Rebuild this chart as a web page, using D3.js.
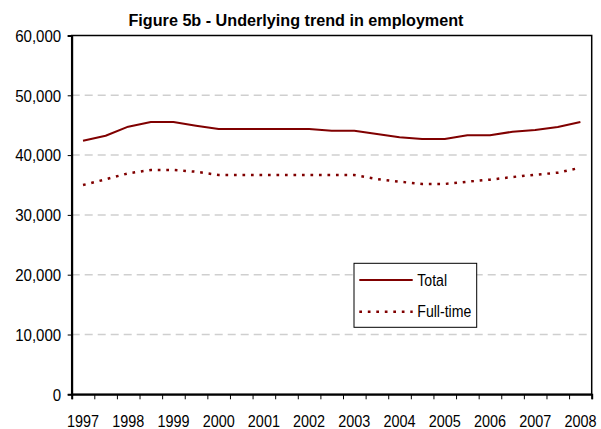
<!DOCTYPE html>
<html>
<head>
<meta charset="utf-8">
<script src="https://cdn.jsdelivr.net/npm/d3@7"></script>
<style>
  html, body { margin: 0; padding: 0; background: #fff; }
  svg { display: block; font-family: "Liberation Sans", Arial, sans-serif; }
</style>
</head>
<body>
<svg id="chart" width="601" height="429"></svg>
<script>
// Half-yearly periods (category axis)
const periods = ["1997","1997b","1998","1998b","1999","1999b","2000","2000b","2001","2001b",
  "2002","2002b","2003","2003b","2004","2004b","2005","2005b","2006","2006b","2007","2007b","2008"];
const yearLabels = ["1997","1998","1999","2000","2001","2002","2003","2004","2005","2006","2007","2008"];
const totalValues = [42410, 43240, 44750, 45530, 45530, 44920, 44360, 44360, 44360, 44360,
  44360, 44080, 44080, 43530, 42980, 42690, 42690, 43310, 43310, 43910, 44200, 44700, 45530];
const fullTimeValues = [35000, 35950, 36960, 37510, 37510, 37220, 36670, 36670, 36670, 36670,
  36670, 36670, 36670, 36000, 35550, 35170, 35170, 35550, 35890, 36340, 36720, 37060, 37890];
const yTicks = [0, 10000, 20000, 30000, 40000, 50000, 60000];
const seriesNames = ["Total", "Full-time"];
const titleText = "Figure 5b - Underlying trend in employment";

const svg = d3.select("#chart");
const L = 71.7, R = 591.7, T = 35.5, B = 394.3;
const lineColor = "#800000";
const FONT = "'Liberation Sans', Arial, sans-serif";

const x = d3.scaleBand().domain(periods).range([L, R]).padding(0);
const xEdge = d3.scaleLinear().domain([0, periods.length]).range([L, R]);
const y = d3.scaleLinear().domain([0, 60000]).range([B, T]);

// Condense text horizontally to mimic the narrow rendering
function condense(sel, ratio) {
  sel.each(function() {
    const t = d3.select(this);
    const w = this.getComputedTextLength();
    if (w > 0) t.attr("textLength", w * ratio).attr("lengthAdjust", "spacingAndGlyphs");
  });
}

// Title
svg.append("text")
  .attr("x", 296).attr("y", 26)
  .attr("text-anchor", "middle")
  .attr("font-weight", "bold")
  .attr("font-size", 16)
  .attr("textLength", 335)
  .attr("lengthAdjust", "spacingAndGlyphs")
  .attr("fill", "#000")
  .text(titleText);

// Gridlines
svg.append("g")
  .selectAll("line")
  .data(yTicks.filter(v => v > 0 && v < 60000))
  .join("line")
  .attr("x1", L).attr("x2", R)
  .attr("y1", d => y(d)).attr("y2", d => y(d))
  .attr("stroke", "#cfcfcf")
  .attr("stroke-width", 1.5)
  .attr("stroke-dasharray", "8,5");

// Plot border
svg.append("rect")
  .attr("x", L).attr("y", T)
  .attr("width", R - L).attr("height", B - T)
  .attr("fill", "none")
  .attr("stroke", "#000")
  .attr("stroke-width", 1.5);

// Y axis
const yAxis = svg.append("g")
  .attr("transform", `translate(${L},0)`)
  .call(d3.axisLeft(y).tickValues(yTicks).tickSize(4).tickPadding(6.5)
    .tickFormat(d3.format(",")));
yAxis.select(".domain").attr("stroke", "#000").attr("stroke-width", 2);
yAxis.selectAll(".tick line").attr("stroke", "#000").attr("stroke-width", 1);
yAxis.selectAll("text").attr("font-size", 16).attr("fill", "#000")
  .attr("font-family", FONT).attr("dy", "0.36em");
condense(yAxis.selectAll("text"), 0.94);

// X axis tick marks at category edges
const xAxis = svg.append("g")
  .attr("transform", `translate(0,${B})`)
  .call(d3.axisBottom(xEdge).tickValues(d3.range(periods.length + 1)).tickSize(5).tickFormat(""));
xAxis.select(".domain").attr("stroke", "#000").attr("stroke-width", 2);
xAxis.selectAll(".tick line").attr("stroke", "#000").attr("stroke-width", 1);

// X labels (every other category)
const xLab = svg.append("g")
  .attr("transform", `translate(0,${B})`)
  .call(d3.axisBottom(x).tickValues(yearLabels).tickSize(0).tickPadding(0));
xLab.select(".domain").remove();
xLab.selectAll("text")
  .attr("y", 33).attr("dy", 0)
  .attr("font-size", 16).attr("fill", "#000")
  .attr("font-family", FONT);
condense(xLab.selectAll("text"), 0.9);

// Lines
const cx = (d, i) => x(periods[i]) + x.bandwidth() / 2;
const lineGen = d3.line().x(cx).y(d => y(d));

svg.append("path")
  .datum(totalValues)
  .attr("d", lineGen)
  .attr("fill", "none")
  .attr("stroke", lineColor)
  .attr("stroke-width", 2)
  .attr("stroke-linejoin", "round");

svg.append("path")
  .datum(fullTimeValues)
  .attr("d", lineGen)
  .attr("fill", "none")
  .attr("stroke", lineColor)
  .attr("stroke-width", 2.5)
  .attr("stroke-dasharray", "2.7,5.8");

// Legend
const lg = svg.append("g");
lg.append("rect")
  .attr("x", 354).attr("y", 263.3)
  .attr("width", 122.7).attr("height", 64)
  .attr("fill", "#fff").attr("stroke", "#000").attr("stroke-width", 1);
const legendRows = [
  { name: seriesNames[0], dash: null, w: 2, yy: 280 },
  { name: seriesNames[1], dash: "2.7,5.8", w: 2.5, yy: 311.7 }
];
legendRows.forEach(r => {
  lg.append("line")
    .attr("x1", 359.3).attr("x2", 412.7)
    .attr("y1", r.yy).attr("y2", r.yy)
    .attr("stroke", lineColor)
    .attr("stroke-width", r.w)
    .attr("stroke-dasharray", r.dash);
  lg.append("text")
    .attr("class", "lgtext")
    .attr("x", 417.3).attr("y", r.yy + 5.5)
    .attr("font-size", 16).attr("fill", "#000")
    .text(r.name);
});
condense(lg.selectAll(".lgtext"), 0.88);
</script>
</body>
</html>
